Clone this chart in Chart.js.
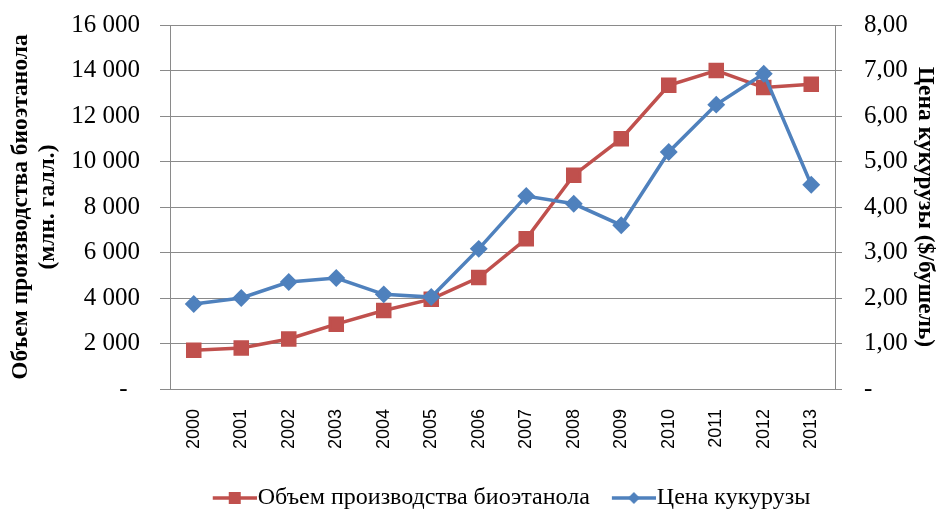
<!DOCTYPE html>
<html>
<head>
<meta charset="utf-8">
<script src="https://cdn.jsdelivr.net/npm/chart.js@4/dist/chart.umd.min.js"></script>
<style>
  html, body { margin: 0; padding: 0; background: #fff; }
  canvas { display: block; }
</style>
</head>
<body>
<canvas id="chart" width="941" height="511"></canvas>
<script>
// данные
const years = ['2000', '2001', '2002', '2003', '2004', '2005', '2006',
               '2007', '2008', '2009', '2010', '2011', '2012', '2013'];
const ethanol = [1700, 1800, 2200, 2850, 3450, 3950, 4900,
                 6600, 9400, 11000, 13350, 14000, 13250, 13400];
const cornPrice = [1.87, 2.00, 2.35, 2.44, 2.08, 2.02, 3.08,
                   4.24, 4.07, 3.60, 5.21, 6.25, 6.93, 4.49];
const ethanolLabel = 'Объем производства биоэтанола';
const cornLabel = 'Цена кукурузы';
const leftTitle = ['Объем производства биоэтанола', '(млн. галл.)'];
const rightTitle = 'Цена кукурузы ($/бушель)';

const RED = '#C0504D';
const BLUE = '#4F81BD';
const GRID = '#8a8a8a';
const SERIF = "'Liberation Serif', 'Times New Roman', serif";

// значок легенды: линия с маркером (слева прозрачный отступ)
function legendIcon(color, style) {
    const c = document.createElement('canvas');
    c.width = 73;
    c.height = 16;
    const g = c.getContext('2d');
    g.strokeStyle = color;
    g.fillStyle = color;
    g.lineWidth = 3.5;
    g.beginPath();
    g.moveTo(29, 8);
    g.lineTo(73, 8);
    g.stroke();
    g.beginPath();
    if (style === 'rect') {
        g.rect(45, 2, 12, 12);
    } else {
        g.moveTo(51, 2); g.lineTo(57, 8); g.lineTo(51, 14); g.lineTo(45, 8);
        g.closePath();
    }
    g.fill();
    return c;
}

function spaced(v) {
    return String(v).replace(/\B(?=(\d{3})+(?!\d))/g, ' ');
}

// убираем лишний отступ сверху от подписей осей
function fixWidth(w) {
    return function (scale) {
        scale.width = w;
        scale.paddingTop = 0;
        scale.paddingBottom = 0;
    };
}

const ctx = document.getElementById('chart').getContext('2d');
new Chart(ctx, {
    type: 'line',
    data: {
        labels: years,
        datasets: [
            {
                label: ethanolLabel,
                data: ethanol,
                yAxisID: 'y',
                borderColor: RED,
                backgroundColor: RED,
                borderWidth: 3.5,
                pointStyle: 'rect',
                pointRadius: 8.5,
                pointHoverRadius: 8.5,
                tension: 0,
                order: 2
            },
            {
                label: cornLabel,
                data: cornPrice,
                yAxisID: 'y1',
                borderColor: BLUE,
                backgroundColor: BLUE,
                borderWidth: 3.5,
                pointStyle: 'rectRot',
                pointRadius: 6.5,
                pointHoverRadius: 6.5,
                tension: 0,
                order: 1
            }
        ]
    },
    options: {
        responsive: false,
        animation: false,
        layout: { padding: { top: 25, left: 0, right: 0, bottom: -9 } },
        scales: {
            x: {
                offset: true,
                grid: { display: false },
                border: { display: true, color: GRID },
                ticks: {
                    minRotation: 90,
                    maxRotation: 90,
                    padding: 12,
                    color: '#000',
                    font: { family: "'Liberation Sans', Arial, sans-serif", size: 18 }
                },
                afterFit: function (scale) { scale.height = 93; }
            },
            y: {
                position: 'left',
                min: 0,
                max: 16000,
                grid: { color: GRID, tickLength: 10 },
                border: { display: true, color: GRID },
                ticks: {
                    stepSize: 2000,
                    padding: 20,
                    color: '#000',
                    font: { family: SERIF, size: 25 },
                    callback: v => v === 0 ? '-  ' : spaced(v)
                },
                title: {
                    display: true,
                    text: leftTitle,
                    color: '#000',
                    padding: { top: 7 },
                    font: { family: SERIF, size: 23.5, weight: 'bold', lineHeight: 1.15 }
                },
                afterFit: fixWidth(170)
            },
            y1: {
                position: 'right',
                min: 0,
                max: 8,
                grid: { drawOnChartArea: false, color: GRID, tickLength: 7 },
                border: { display: true, color: GRID },
                ticks: {
                    stepSize: 1,
                    padding: 22,
                    color: '#000',
                    font: { family: SERIF, size: 25 },
                    callback: v => v === 0 ? '-' : v.toFixed(2).replace('.', ',')
                },
                title: {
                    display: true,
                    text: rightTitle,
                    color: '#000',
                    padding: { top: 2 },
                    font: { family: SERIF, size: 23.5, weight: 'bold', lineHeight: 1.15 }
                },
                afterFit: fixWidth(106)
            }
        },
        plugins: {
            tooltip: { enabled: false },
            legend: {
                display: true,
                position: 'bottom',
                fullSize: false,
                labels: {
                    usePointStyle: true,
                    pointStyleWidth: 51,
                    padding: 4,
                    color: '#000',
                    font: { family: SERIF, size: 24 },
                    generateLabels: function () {
                        return [
                            { text: ethanolLabel, pointStyle: legendIcon(RED, 'rect'),
                              fillStyle: RED, strokeStyle: RED, lineWidth: 0, datasetIndex: 0 },
                            { text: cornLabel, pointStyle: legendIcon(BLUE, 'diamond'),
                              fillStyle: BLUE, strokeStyle: BLUE, lineWidth: 0, datasetIndex: 1 }
                        ];
                    }
                }
            }
        }
    }
});
</script>
</body>
</html>
